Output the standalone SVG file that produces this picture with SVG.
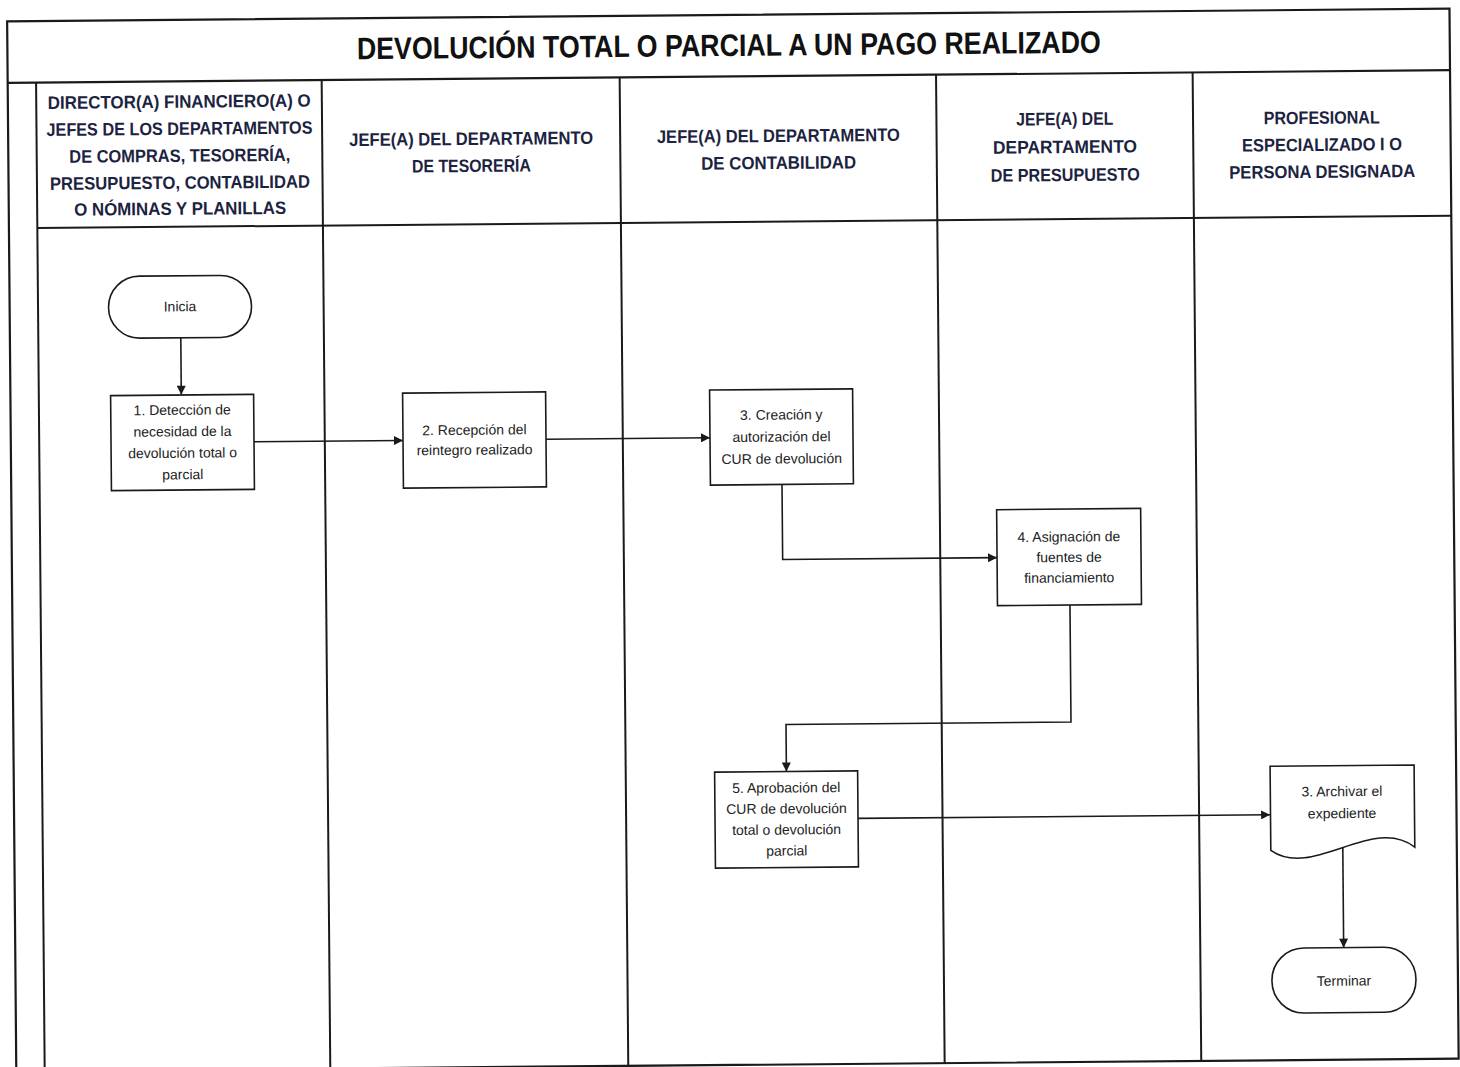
<svg xmlns="http://www.w3.org/2000/svg" width="1460" height="1067" viewBox="0 0 1460 1067">
<style>
.frame{fill:none;stroke:#1a1a1a;stroke-width:2.2}
.lane{fill:none;stroke:#1a1a1a;stroke-width:2}
.node{fill:#fff;stroke:#1a1a1a;stroke-width:1.6}
.conn{fill:none;stroke:#1a1a1a;stroke-width:1.6}
.title{font-family:"Liberation Sans",Arial,sans-serif;font-weight:bold;font-size:31px;fill:#111;text-anchor:middle}
.hdr{font-family:"Liberation Sans",Arial,sans-serif;font-weight:bold;font-size:18px;fill:#1c2340;text-anchor:middle}
.txt{font-family:"Liberation Sans",Arial,sans-serif;font-size:14px;fill:#222;text-anchor:middle}
</style>
<defs>
<marker id="arr" viewBox="0 0 10 10" refX="10" refY="5" markerWidth="10" markerHeight="9" markerUnits="userSpaceOnUse" orient="auto">
<path d="M0,0 L10,5 L0,10 Z" fill="#1a1a1a"/>
</marker>
</defs>
<rect x="0" y="0" width="1460" height="1067" fill="#fff"/>
<g transform="rotate(-0.5 730 530)">
<g id="frame">
<rect class="frame" x="11.6" y="15" width="1442.4" height="1050"/>
<line class="frame" x1="11.6" y1="76.5" x2="1454" y2="76.5"/>
<line class="lane" x1="40" y1="222" x2="1454" y2="222"/>
<line class="lane" x1="40" y1="76.5" x2="40" y2="1065"/>
<line class="lane" x1="325.6" y1="76.5" x2="325.6" y2="1065"/>
<line class="lane" x1="623.6" y1="76.5" x2="623.6" y2="1065"/>
<line class="lane" x1="940" y1="76.5" x2="940" y2="1065"/>
<line class="lane" x1="1196.6" y1="76.5" x2="1196.6" y2="1065"/>
<text class="title" x="733" y="56" textLength="744" lengthAdjust="spacingAndGlyphs">DEVOLUCIÓN TOTAL O PARCIAL A UN PAGO REALIZADO</text>
</g>
<g id="lane-headers">
<text class="hdr" x="183" y="103" textLength="263" lengthAdjust="spacingAndGlyphs">DIRECTOR(A) FINANCIERO(A) O</text>
<text class="hdr" x="183" y="130" textLength="266" lengthAdjust="spacingAndGlyphs">JEFES DE LOS DEPARTAMENTOS</text>
<text class="hdr" x="183" y="157" textLength="221" lengthAdjust="spacingAndGlyphs">DE COMPRAS, TESORERÍA,</text>
<text class="hdr" x="183" y="184" textLength="260" lengthAdjust="spacingAndGlyphs">PRESUPUESTO, CONTABILIDAD</text>
<text class="hdr" x="183" y="210" textLength="212" lengthAdjust="spacingAndGlyphs">O NÓMINAS Y PLANILLAS</text>
<text class="hdr" x="474.6" y="142.7" textLength="244" lengthAdjust="spacingAndGlyphs">JEFE(A) DEL DEPARTAMENTO</text>
<text class="hdr" x="474.6" y="169.7" textLength="119" lengthAdjust="spacingAndGlyphs">DE TESORERÍA</text>
<text class="hdr" x="781.8" y="142.4" textLength="243" lengthAdjust="spacingAndGlyphs">JEFE(A) DEL DEPARTAMENTO</text>
<text class="hdr" x="781.8" y="169.4" textLength="155" lengthAdjust="spacingAndGlyphs">DE CONTABILIDAD</text>
<text class="hdr" x="1068.3" y="128" textLength="97" lengthAdjust="spacingAndGlyphs">JEFE(A) DEL</text>
<text class="hdr" x="1068.3" y="156" textLength="144" lengthAdjust="spacingAndGlyphs">DEPARTAMENTO</text>
<text class="hdr" x="1068.3" y="184" textLength="149" lengthAdjust="spacingAndGlyphs">DE PRESUPUESTO</text>
<text class="hdr" x="1325.3" y="129" textLength="116" lengthAdjust="spacingAndGlyphs">PROFESIONAL</text>
<text class="hdr" x="1325.3" y="156" textLength="160" lengthAdjust="spacingAndGlyphs">ESPECIALIZADO I O</text>
<text class="hdr" x="1325.3" y="183" textLength="186" lengthAdjust="spacingAndGlyphs">PERSONA DESIGNADA</text>
</g>
<g id="connectors">
<path class="conn" d="M182.5,333 V390" marker-end="url(#arr)"/>
<path class="conn" d="M254.8,437.6 H403.8" marker-end="url(#arr)"/>
<path class="conn" d="M546.8,437.6 H710.8" marker-end="url(#arr)"/>
<path class="conn" d="M782.4,485 V560 H996.8" marker-end="url(#arr)"/>
<path class="conn" d="M1069.3,608 V725 H784.3 V772" marker-end="url(#arr)"/>
<path class="conn" d="M855.5,819.5 H1267.6" marker-end="url(#arr)"/>
<path class="conn" d="M1340,853 V953" marker-end="url(#arr)"/>
</g>
<g id="n-inicia">
<rect class="node" x="110.5" y="271" width="143" height="62" rx="31" ry="31"/>
<text class="txt" x="182" y="306.5">Inicia</text>
</g>
<g id="n1">
<rect class="node" x="111.8" y="390.2" width="143" height="95"/>
<text class="txt" x="183.3" y="410">1. Detección de</text>
<text class="txt" x="183.3" y="431.5">necesidad de la</text>
<text class="txt" x="183.3" y="453">devolución total o</text>
<text class="txt" x="183.3" y="474.5">parcial</text>
</g>
<g id="n2">
<rect class="node" x="403.8" y="390.3" width="143" height="95"/>
<text class="txt" x="475.3" y="432.5">2. Recepción del</text>
<text class="txt" x="475.3" y="452.5">reintegro realizado</text>
</g>
<g id="n3">
<rect class="node" x="710.8" y="389.9" width="143" height="95"/>
<text class="txt" x="782.3" y="420">3. Creación y</text>
<text class="txt" x="782.3" y="442">autorización del</text>
<text class="txt" x="782.3" y="464">CUR de devolución</text>
</g>
<g id="n4">
<rect class="node" x="996.8" y="512" width="144" height="96"/>
<text class="txt" x="1068.8" y="544.5">4. Asignación de</text>
<text class="txt" x="1068.8" y="565">fuentes de</text>
<text class="txt" x="1068.8" y="585.5">financiamiento</text>
</g>
<g id="n5">
<rect class="node" x="712.5" y="772" width="143" height="96"/>
<text class="txt" x="784" y="793">5. Aprobación del</text>
<text class="txt" x="784" y="814">CUR de devolución</text>
<text class="txt" x="784" y="835">total o devolución</text>
<text class="txt" x="784" y="856">parcial</text>
</g>
<g id="n-archivar">
<path class="node" d="M1268,771 H1412 V853 C1370,820 1310,885 1268,855 Z"/>
<text class="txt" x="1339.6" y="801.5">3. Archivar el</text>
<text class="txt" x="1339.6" y="823.5">expediente</text>
</g>
<g id="n-terminar">
<rect class="node" x="1268" y="953" width="144" height="65" rx="32" ry="32"/>
<text class="txt" x="1340" y="991">Terminar</text>
</g>
</g>
</svg>
